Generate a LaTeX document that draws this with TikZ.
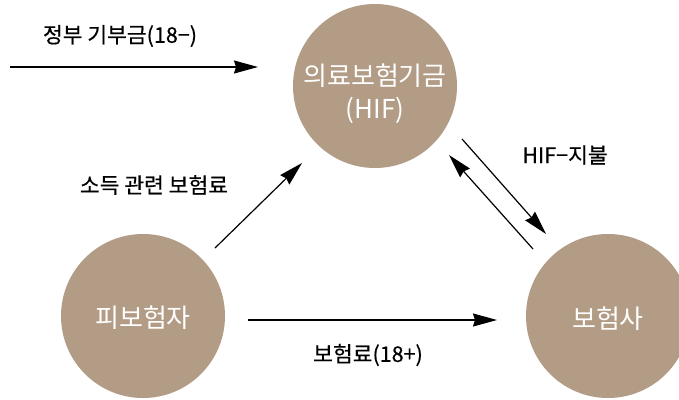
\documentclass[tikz,border=0pt]{standalone}
\usepackage{fontspec}
\setmainfont{Noto Sans CJK KR}
\newfontfamily\lblfont{Noto Sans CJK KR}[FakeBold=0.4]
\usetikzlibrary{arrows.meta}
\definecolor{circfill}{RGB}{178,156,133}
\tikzset{
  bubble/.style={circle, fill=circfill, draw=none, minimum size=164pt, inner sep=0pt},
  bubbletext/.style={text=white, font=\fontsize{26}{33}\selectfont, align=center, inner sep=0pt},
  lbl/.style={font=\lblfont\fontsize{21.5}{24}\selectfont, text=black, inner sep=0pt},
  conn/.style={line width=1.2pt, -{Stealth[length=24pt,width=13pt,inset=2pt]}}
}
\begin{document}
\begin{tikzpicture}[x=1pt,y=-1pt]
\useasboundingbox (0,0) rectangle (679,399);
\begin{scope}
\clip (0,0) rectangle (679,399);
\node[bubble] (hif) at (375,86) {};
\node[bubble] (ins) at (143,316) {};
\node[bubble] (comp) at (608,316) {};
\end{scope}
\node[bubbletext] (hift) at (375,94) {의료보험기금\\(HIF)};
\node[bubbletext] (inst) at (143,318) {피보험자};
\node[bubbletext] (compt) at (608,319) {보험사};
\coordinate (gs) at (10,67);
\coordinate (ge) at (258,67);
\coordinate (ds) at (215,248);
\coordinate (de) at (302,163);
\coordinate (bs) at (248,320);
\coordinate (be) at (497,320);
\coordinate (ps) at (462,139);
\coordinate (pe) at (546,234);
\coordinate (qs) at (533,249);
\coordinate (qe) at (449,155);
\draw[conn] (gs) -- (ge);
\draw[conn] (ds) -- (de);
\draw[conn] (bs) -- (be);
\draw[conn] (ps) -- (pe);
\draw[conn] (qs) -- (qe);
\node[lbl] (l1) at (120,36) {정부 기부금(18−)};
\node[lbl] (l2) at (154,185) {소득 관련 보험료};
\node[lbl] (l3) at (368,355) {보험료(18+)};
\node[lbl] (l4) at (565,155) {HIF−지불};
\end{tikzpicture}
\end{document}
